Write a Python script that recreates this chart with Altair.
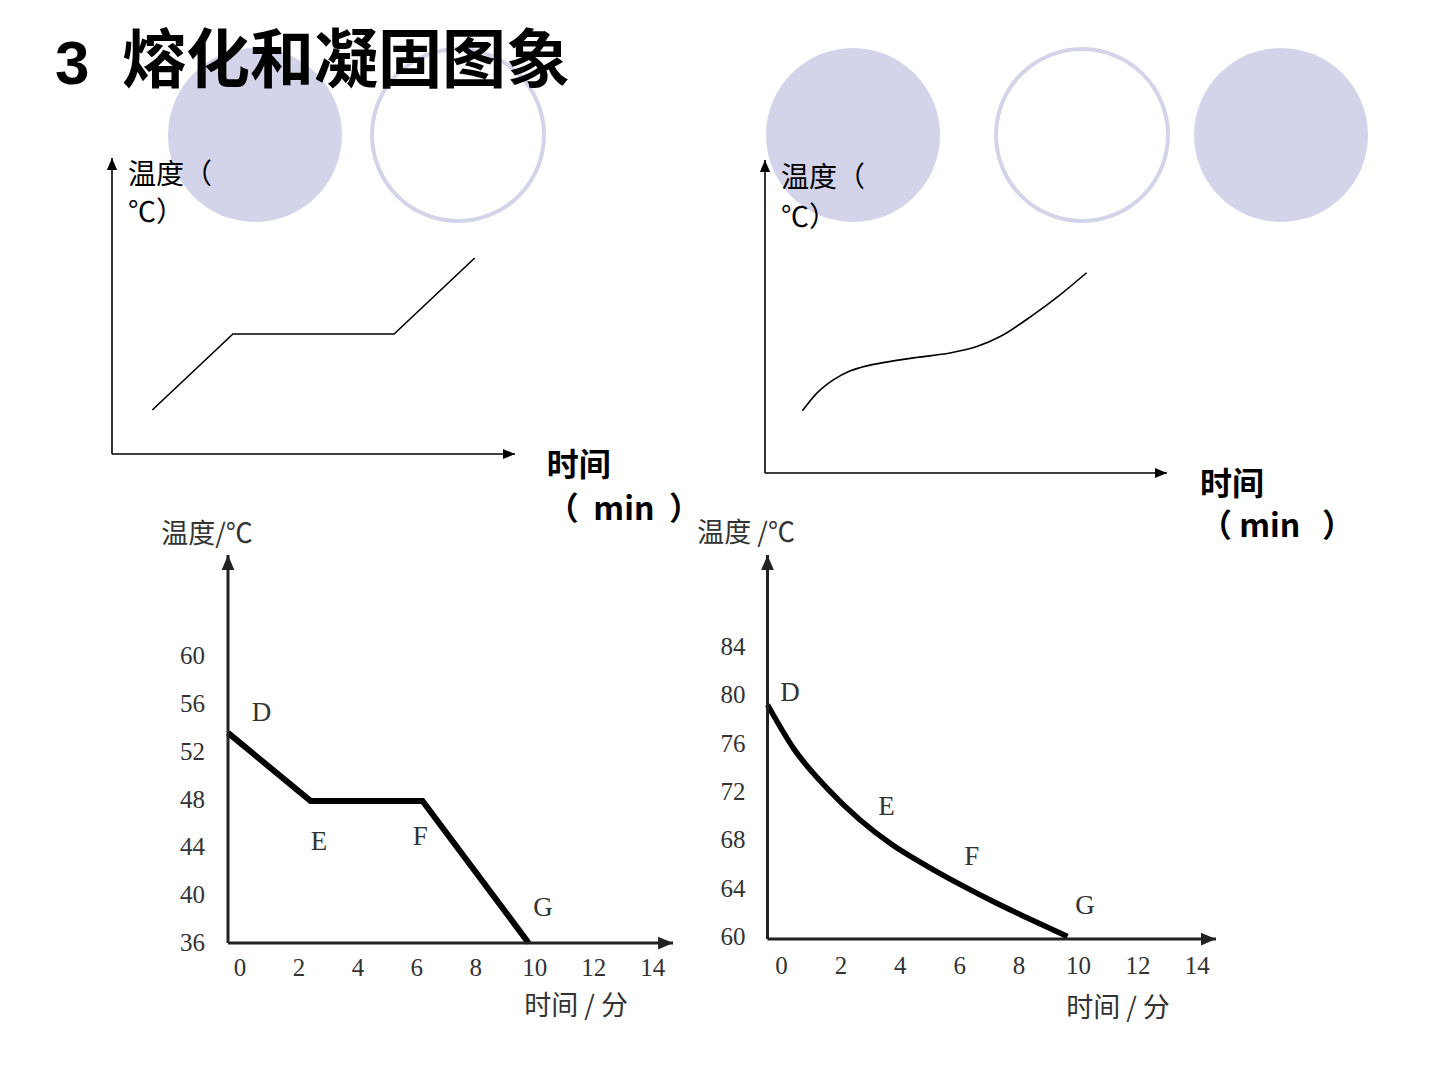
import altair as alt
import pandas as pd

# ---------------- data ----------------
# top-left schematic (crystal melting), arbitrary units
tl_time = [1, 3, 7, 9]
tl_temp = [1.1, 3.0, 3.0, 4.9]

# top-right schematic (amorphous melting), arbitrary units
tr_time = [0.93, 1.29, 1.70, 2.11, 2.53, 2.94, 3.77, 4.60, 5.27, 5.85, 6.67, 7.34, 8.00]
tr_temp = [1.55, 1.99, 2.32, 2.54, 2.67, 2.75, 2.88, 2.99, 3.15, 3.40, 3.94, 4.44, 4.99]

# bottom-left: crystal solidification (min, degC)
bl_time = [0, 2.8, 6.6, 10.2]
bl_temp = [53.6, 47.9, 47.9, 36.0]
bl_yticks = [36, 40, 44, 48, 52, 56, 60]
bl_xticks = [0, 2, 4, 6, 8, 10, 12, 14]
bl_letters = ["D", "E", "F", "G"]
bl_letter_t = [1.14, 3.09, 6.52, 10.69]
bl_letter_v = [55.25, 44.5, 44.9, 38.9]

# bottom-right: amorphous solidification (min, degC)
br_time = [0, 0.9, 2.0, 3.1, 4.2, 5.4, 6.5, 7.6, 8.7, 10.1]
br_temp = [79.4, 75.7, 72.5, 69.9, 67.8, 66.0, 64.5, 63.1, 61.8, 60.2]
br_yticks = [60, 64, 68, 72, 76, 80, 84]
br_xticks = [0, 2, 4, 6, 8, 10, 12, 14]
br_letters = ["D", "E", "F", "G"]
br_letter_t = [0.76, 4.01, 6.88, 10.69]
br_letter_v = [80.4, 70.95, 66.8, 62.7]

NB = "\u00a0"
TITLE_NUM = "3"
TITLE_TEXT = "熔化和凝固图象"
TEMP_LABEL = ["温度（", "℃）"]
TL_TIME_LABEL = ["时间", "（" + NB * 2 + "min" + NB * 2 + "）"]
TR_TIME_LABEL = ["时间", "（" + NB + "min" + NB * 3 + "）"]

# ---------------- styles ----------------
CJK = "Noto Sans CJK SC"
SERIF = "Liberation Serif"
SANS = "Liberation Sans"
LAV = "#D3D3EA"
SCAN = "#333333"
ARROW_R = "M0,0 L-2,-0.85 L-2,0.85 Z"
ARROW_U = "M0,0 L-0.85,2 L0.85,2 Z"


def xd(v, s):
    return alt.XDatum(v, scale=s, axis=None)


def yd(v, s):
    return alt.YDatum(v, scale=s, axis=None)


def axes_layers(xs, ys, x0, y0, x_end, y_end, aw, color, asize):
    yaxis = alt.Chart().mark_rule(color=color, strokeWidth=aw).encode(
        x=xd(x0, xs), y=yd(y0, ys), y2=alt.datum(y_end))
    xaxis = alt.Chart().mark_rule(color=color, strokeWidth=aw).encode(
        x=xd(x0, xs), x2=alt.datum(x_end), y=yd(y0, ys))
    up = alt.Chart().mark_point(shape=ARROW_U, filled=True, color=color, opacity=1,
                                strokeWidth=0, size=asize).encode(x=xd(x0, xs), y=yd(y_end, ys))
    right = alt.Chart().mark_point(shape=ARROW_R, filled=True, color=color, opacity=1,
                                   strokeWidth=0, size=asize).encode(x=xd(x_end, xs), y=yd(y0, ys))
    return [yaxis, xaxis, up, right]


def text_at(txt, x, y, xs, ys, font, size, weight="normal", align="left",
            baseline="middle", color="black", line_height=None):
    kw = {}
    if line_height is not None:
        kw["lineHeight"] = line_height
    return alt.Chart().mark_text(text=txt, font=font, fontSize=size, fontWeight=weight,
                                 align=align, baseline=baseline, color=color, **kw).encode(
        x=xd(x, xs), y=yd(y, ys))


def schematic(times, temps, xr, yr, ydom_top, interp, temp_pos, temp_lh,
              time_label, time_pos, time_lh):
    xs = alt.Scale(domain=[0, 10], range=xr)
    ys = alt.Scale(domain=[0, ydom_top], range=yr)
    df = pd.DataFrame({"t": times, "v": temps})
    line = alt.Chart(df).mark_line(color="black", strokeWidth=1.6, interpolate=interp).encode(
        x=alt.X("t:Q", scale=xs, axis=None), y=alt.Y("v:Q", scale=ys, axis=None))
    layers = [line] + axes_layers(xs, ys, 0, 0, 10, ydom_top, 1.6, "black", 144)
    layers += [
        text_at(TEMP_LABEL, temp_pos[0], temp_pos[1], xs, ys, CJK, 28,
                baseline="top", line_height=temp_lh),
        text_at(time_label, time_pos[0], time_pos[1], xs, ys, CJK, 32, weight="bold",
                baseline="top", line_height=time_lh),
    ]
    return alt.layer(*layers)


def graph(times, temps, xticks, yticks, letters, lt, lv, xdom, xr, ydom, yr,
          x_end, y_end, ylabel, ylabel_pos, xlabel, xlabel_pos, xdx, xdy, ydx, ydy, lw, interp):
    xs = alt.Scale(domain=xdom, range=xr)
    ys = alt.Scale(domain=ydom, range=yr)
    x0, y0 = xdom[0], ydom[0]
    df = pd.DataFrame({"t": times, "v": temps})
    line = alt.Chart(df).mark_line(color="black", strokeWidth=lw, interpolate=interp,
                                   strokeJoin="miter").encode(
        x=alt.X("t:Q", scale=xs, axis=None), y=alt.Y("v:Q", scale=ys, axis=None))
    xt = alt.Chart(pd.DataFrame({"v": xticks})).mark_text(
        font=SERIF, fontSize=25, color=SCAN, dx=xdx, dy=xdy, baseline="middle").encode(
        x=alt.X("v:Q", scale=xs, axis=None), y=yd(y0, ys), text="v:Q")
    yt = alt.Chart(pd.DataFrame({"v": yticks})).mark_text(
        font=SERIF, fontSize=25, color=SCAN, dx=ydx, dy=ydy, align="right", baseline="middle").encode(
        x=xd(x0, xs), y=alt.Y("v:Q", scale=ys, axis=None), text="v:Q")
    lets = alt.Chart(pd.DataFrame({"s": letters, "t": lt, "v": lv})).mark_text(
        font=SERIF, fontSize=27, color=SCAN, baseline="middle").encode(
        x=alt.X("t:Q", scale=xs, axis=None), y=alt.Y("v:Q", scale=ys, axis=None), text="s:N")
    layers = [line] + axes_layers(xs, ys, x0, y0, x_end, y_end, 3, "#222222", 225)
    layers += [xt, yt, lets,
               text_at(ylabel, ylabel_pos[0], ylabel_pos[1], xs, ys, CJK, 27, align="center", color=SCAN),
               text_at(xlabel, xlabel_pos[0], xlabel_pos[1], xs, ys, CJK, 27, align="center", color=SCAN)]
    return alt.layer(*layers)


# ---------------- decorations ----------------
def circ(cx, cy, r, filled):
    if filled:
        return alt.Chart().mark_point(shape="circle", filled=True, color=LAV, opacity=1,
                                      strokeWidth=0).encode(
            x=alt.value(cx), y=alt.value(cy), size=alt.value((2 * r) ** 2))
    return alt.Chart().mark_point(shape="circle", filled=False, color=LAV, opacity=1,
                                  strokeWidth=4).encode(
        x=alt.value(cx), y=alt.value(cy), size=alt.value((2 * r - 4) ** 2))


decor = [
    circ(255, 135, 87, True),
    circ(458, 135, 88, False),
    circ(853, 135, 87, True),
    circ(1082, 135, 88, False),
    circ(1281, 135, 87, True),
    alt.Chart().mark_text(text=TITLE_NUM, font=SANS, fontSize=62, fontWeight="bold",
                          align="left", baseline="middle").encode(x=alt.value(55), y=alt.value(65)),
    alt.Chart().mark_text(text=TITLE_TEXT, font=CJK, fontSize=64, fontWeight="bold",
                          align="left", baseline="middle").encode(x=alt.value(122), y=alt.value(63)),
]

tl = schematic(tl_time, tl_temp, [112, 515], [454, 158], 7.4, "linear",
               (0.40, 7.30), 38, TL_TIME_LABEL, (10.79, 0.08), 44)
tr = schematic(tr_time, tr_temp, [765, 1167], [473, 160], 7.8, "monotone",
               (0.40, 7.68), 40, TR_TIME_LABEL, (10.82, 0.08), 42)

bl = graph(bl_time, bl_temp, bl_xticks, bl_yticks, bl_letters, bl_letter_t, bl_letter_v,
           [0, 15.2], [228, 676], [36, 68.5], [943, 555], 15.1, 68.5,
           "温度/℃", (-0.71, 70.2), "时间 / 分", (11.81, 30.64),
           12, 25, -23, 0, 6, "linear")
br = graph(br_time, br_temp, br_xticks, br_yticks, br_letters, br_letter_t, br_letter_v,
           [0, 15.1], [767.5, 1216], [60, 91.8], [939, 555], 15.1, 91.8,
           "温度 /℃", (-0.72, 93.5), "时间 / 分", (11.8, 54.2),
           14, 27, -22, -2, 5.5, "monotone")

chart = alt.layer(*decor, tl, tr, bl, br).resolve_scale(
    x="independent", y="independent"
).properties(
    width=1440, height=1080, autosize="none", padding=0, background="white"
).configure_view(strokeWidth=0)

chart.save("out.html", embed_options={"renderer": "svg", "actions": False})
